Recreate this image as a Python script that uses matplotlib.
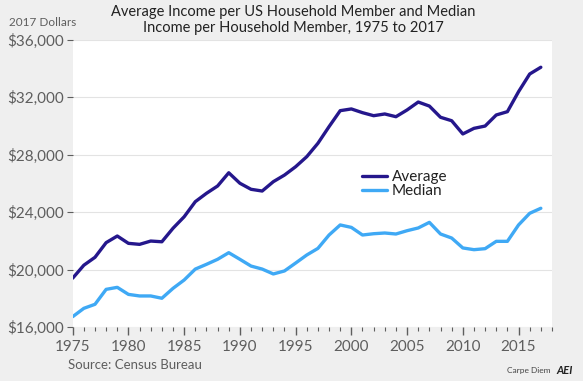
import matplotlib
matplotlib.use("Agg")
import matplotlib.pyplot as plt
from matplotlib.ticker import FuncFormatter, MultipleLocator

BG_COLOR = "#EFEFEF"
AVG_COLOR = "#25178C"
MED_COLOR = "#3FA9F5"
TEXT_COLOR = "#5E5E5E"
GRID_COLOR = "#E3E3E3"

years = list(range(1975, 2018))
average = [19400, 20300, 20850, 21870, 22330, 21820, 21750, 21980, 21930, 22870,
           23670, 24720, 25300, 25810, 26730, 26000, 25580, 25460, 26110, 26570,
           27150, 27850, 28780, 29940, 31050, 31170, 30910, 30700, 30820, 30630,
           31100, 31650, 31370, 30590, 30350, 29430, 29820, 29980, 30750, 30980,
           32370, 33600, 34070]
median = [16720, 17300, 17580, 18620, 18760, 18270, 18160, 18160, 18000, 18690,
          19270, 20030, 20360, 20710, 21170, 20710, 20240, 20030, 19690, 19900,
          20450, 21010, 21470, 22400, 23100, 22930, 22400, 22490, 22540, 22470,
          22700, 22890, 23280, 22470, 22190, 21500, 21380, 21450, 21960, 21960,
          23100, 23910, 24260]
y_ticks = [16000, 20000, 24000, 28000, 32000, 36000]
x_ticks = [1975, 1980, 1985, 1990, 1995, 2000, 2005, 2010, 2015]

plt.rcParams["font.family"] = ["Lato", "DejaVu Sans"]

fig = plt.figure(figsize=(5.83, 3.81), dpi=100, facecolor=BG_COLOR)
ax = fig.add_axes([0.1247, 0.1417, 0.8221, 0.7546])
ax.set_facecolor("white")

ax.plot(years, average, color=AVG_COLOR, linewidth=2.4, label="Average",
        solid_joinstyle="round", solid_capstyle="round")
ax.plot(years, median, color=MED_COLOR, linewidth=2.4, label="Median",
        solid_joinstyle="round", solid_capstyle="round")

ax.set_xlim(1975, 2018)
ax.set_ylim(16000, 36000)
ax.set_yticks(y_ticks)
ax.yaxis.set_major_formatter(FuncFormatter(lambda v, p: f"${v:,.0f}"))
ax.set_xticks(x_ticks)
ax.xaxis.set_minor_locator(MultipleLocator(1))
ax.grid(True, axis="y", color=GRID_COLOR, linewidth=0.8)
ax.set_axisbelow(True)
for s in ax.spines.values():
    s.set_visible(False)

ax.tick_params(axis="y", labelsize=11, colors=TEXT_COLOR, length=4, width=0.8, pad=2)
ax.tick_params(axis="x", which="major", labelsize=11, colors=TEXT_COLOR,
               length=6, width=1.0, pad=3)
ax.tick_params(axis="x", which="minor", colors=TEXT_COLOR, length=3, width=0.8)

leg = ax.legend(loc="center left", bbox_to_anchor=(0.588, 0.497), frameon=False,
                fontsize=11, handlelength=1.6, handletextpad=0.35,
                labelspacing=0.0, borderpad=0)
for t in leg.get_texts():
    t.set_color("#222222")

fig.text(0.503, 0.968, "Average Income per US Household Member and Median",
         ha="center", va="center", fontsize=10.5, color="#222222")
fig.text(0.503, 0.926, "Income per Household Member, 1975 to 2017",
         ha="center", va="center", fontsize=10.5, color="#222222")
fig.text(0.015, 0.94, "2017 Dollars", ha="left", va="center", fontsize=8.5,
         color=TEXT_COLOR)
fig.text(0.117, 0.042, "Source: Census Bureau", ha="left", va="center",
         fontsize=9.5, color=TEXT_COLOR)
fig.text(0.87, 0.027, "Carpe Diem", ha="left", va="center", fontsize=6,
         color="#444444")
fig.text(0.955, 0.027, "AEI", ha="left", va="center", fontsize=8,
         fontweight="bold", fontstyle="italic", color="#222222")

fig.savefig("out.png", dpi=100, facecolor=BG_COLOR)
